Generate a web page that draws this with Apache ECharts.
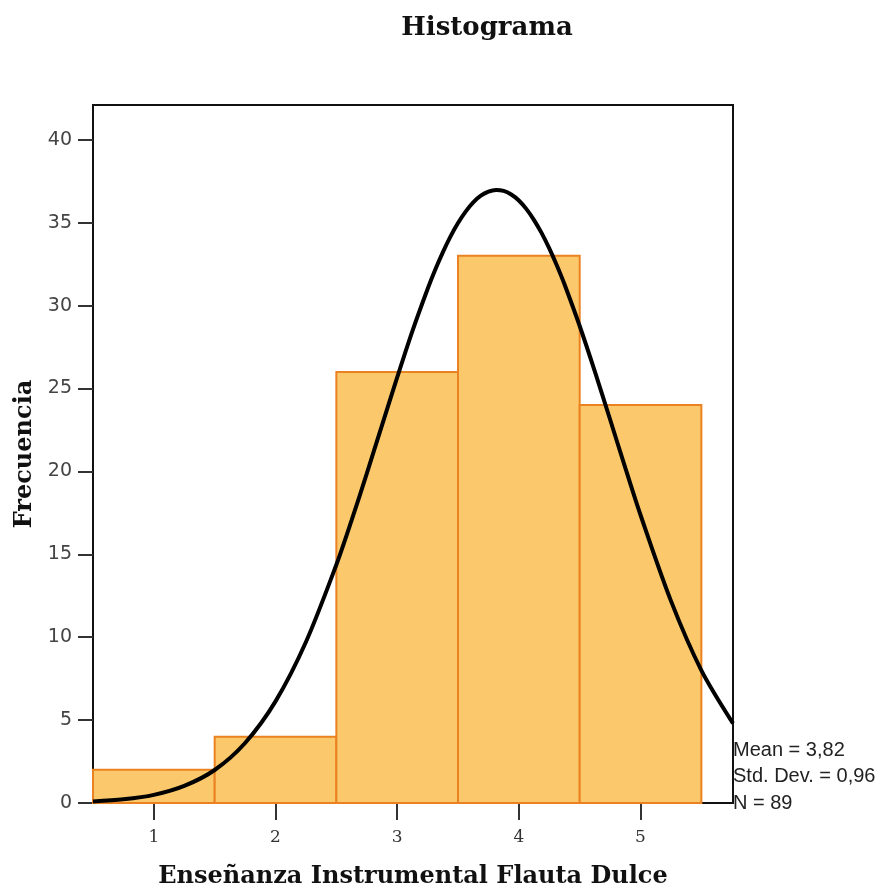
<!DOCTYPE html>
<html>
<head>
<meta charset="utf-8">
<script src="https://cdn.jsdelivr.net/npm/echarts@6/dist/echarts.min.js"></script>
<style>
html,body{margin:0;padding:0;background:#fff;}
#main{width:890px;height:891px;}
</style>
</head>
<body>
<div id="main"></div>
<script>
// histogram bins (centre value) and counts
var binCenters = [1, 2, 3, 4, 5];
var frequencies = [2, 4, 26, 33, 24];
// normal curve
var curveX = [0.5, 0.75, 1.0, 1.25, 1.5, 1.75, 2.0, 2.25, 2.5, 2.625, 2.75, 2.875, 3.0, 3.125, 3.25, 3.3125, 3.375, 3.4375, 3.5, 3.5625, 3.625, 3.6875, 3.75, 3.8125, 3.875, 3.9375, 4.0, 4.0625, 4.125, 4.1875, 4.25, 4.3125, 4.375, 4.5, 4.625, 4.75, 4.875, 5.0, 5.25, 5.5, 5.76];
var curveY = [0.09, 0.22, 0.49, 1.03, 1.99, 3.62, 6.13, 9.71, 14.37, 17.04, 19.87, 22.78, 25.67, 28.46, 31.0, 32.16, 33.21, 34.16, 34.98, 35.67, 36.23, 36.63, 36.88, 36.98, 36.92, 36.7, 36.34, 35.82, 35.16, 34.37, 33.45, 32.42, 31.29, 28.77, 26.02, 23.13, 20.21, 17.37, 12.19, 8.0, 4.8];
var xTicks = [1, 2, 3, 4, 5];
var statsLines = ['Mean = 3,82', 'Std. Dev. = 0,96', 'N = 89'];

var myChart = echarts.init(document.getElementById('main'));

var barData = binCenters.map(function(c, i){ return [c, frequencies[i]]; });
var lineData = curveX.map(function(x, i){ return [x, curveY[i]]; });

var option = {
    animation: false,
    backgroundColor: '#fff',
    title: {
        text: 'Histograma',
        left: 482,
        top: 10,
        textAlign: 'center',
        textStyle: {fontFamily: 'DejaVu Serif', fontWeight: 'bold', fontSize: 26, color: '#111'}
    },
    grid: {
        left: 93, right: 157, top: 105, bottom: 88,
        outerBoundsMode: 'none',
        show: true, borderColor: '#111', borderWidth: 2, backgroundColor: '#fff'
    },
    xAxis: {
        type: 'value',
        min: 0.5,
        max: 5.76,
        splitLine: {show: false},
        axisLine: {show: false},
        axisTick: {show: true, length: 17, lineStyle: {color: '#333', width: 2}, customValues: xTicks},
        axisLabel: {color: '#333', fontFamily: 'DejaVu Serif', fontSize: 17, margin: 26, customValues: xTicks},
        name: 'Enseñanza Instrumental Flauta Dulce',
        nameLocation: 'middle',
        nameGap: 62,
        nameTextStyle: {fontFamily: 'DejaVu Serif', fontWeight: 'bold', fontSize: 24, color: '#111'}
    },
    yAxis: {
        type: 'value',
        min: 0,
        max: 42.1,
        interval: 5,
        splitLine: {show: false},
        axisLine: {show: true, lineStyle: {color: '#111', width: 2}},
        axisTick: {show: true, length: 15, lineStyle: {color: '#333', width: 2}},
        axisLabel: {color: '#444', fontFamily: 'DejaVu Sans', fontSize: 19, margin: 21, showMaxLabel: false},
        name: 'Frecuencia',
        nameLocation: 'middle',
        nameGap: 48,
        nameTextStyle: {fontFamily: 'DejaVu Serif', fontWeight: 'bold', fontSize: 24, color: '#111'}
    },
    graphic: statsLines.map(function(t, i){
        return {
            type: 'text', left: 733, top: 740 + i * 26.5,
            style: {text: t, fontFamily: 'Liberation Sans', fontSize: 20, fill: '#222'}
        };
    }),
    series: [
        {
            type: 'custom',
            data: barData,
            z: 2,
            renderItem: function(params, api){
                var c = api.value(0), v = api.value(1);
                var p0 = api.coord([c - 0.5, v]);
                var p1 = api.coord([c + 0.5, 0]);
                return {
                    type: 'rect',
                    shape: {x: p0[0], y: p0[1], width: p1[0] - p0[0], height: p1[1] - p0[1]},
                    style: {fill: '#FBC96B', stroke: '#EB8222', lineWidth: 2}
                };
            }
        },
        {
            type: 'line',
            data: lineData,
            smooth: 0.3,
            showSymbol: false,
            z: 5,
            lineStyle: {color: '#000', width: 4}
        }
    ]
};
myChart.setOption(option);
</script>
</body>
</html>
